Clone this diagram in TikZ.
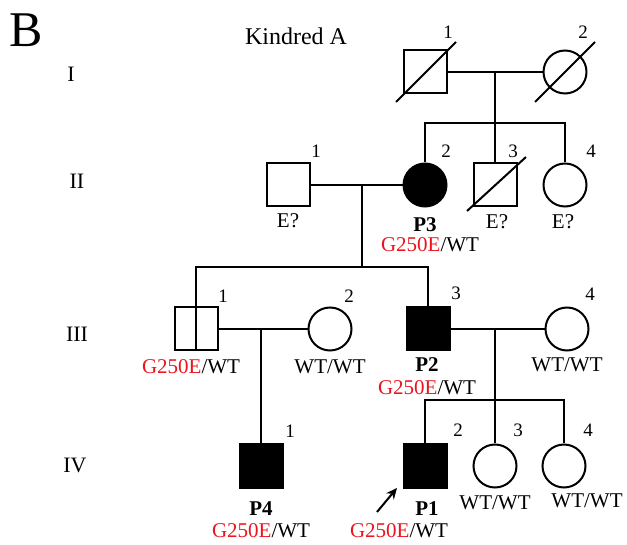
\documentclass[tikz,border=0pt]{standalone}
\usepackage{fontspec}
\setmainfont{Liberation Serif}
\usetikzlibrary{calc,arrows.meta}
\definecolor{mutred}{RGB}{235,20,30}
\tikzset{
  pline/.style={line width=2pt},
  sq/.style={draw,line width=2pt,minimum size=43pt,inner sep=0pt},
  ci/.style={circle,draw,line width=2pt,minimum size=43pt,inner sep=0pt},
  aff/.style={fill=black},
  num/.style={anchor=base,inner sep=0pt,font=\fontsize{19}{19}\selectfont},
  txt/.style={anchor=base,inner sep=0pt,font=\fontsize{21}{21}\selectfont},
  btxt/.style={anchor=base,inner sep=0pt,font=\fontsize{21}{21}\selectfont\bfseries},
  gen/.style={anchor=base,inner sep=0pt,font=\fontsize{22}{22}\selectfont},
}
\newcommand{\mut}{\textcolor{mutred}{G250E}/WT}
\begin{document}
\begin{tikzpicture}[x=1pt,y=-1pt]
\useasboundingbox (0,0) rectangle (627,545);
% titles
\node[anchor=base,inner sep=0pt,font=\fontsize{50}{50}\selectfont] (title) at (26,47) {B};
\node[anchor=base,inner sep=0pt,font=\fontsize{24}{24}\selectfont] (kin) at (296,45) {Kindred A};
% generation labels
\node[gen] (gI) at (71,82) {I};
\node[gen] (gII) at (77,189) {II};
\node[gen] (gIII) at (77,342) {III};
\node[gen] (gIV) at (75,472) {IV};

% Generation I
\node[sq] (i1) at (425,72) {};
\node[ci] (i2) at (565,72) {};
\draw[pline] ($(i1)+(-29,30)$) -- ($(i1)+(31,-30)$);
\draw[pline] ($(i2)+(-30,30)$) -- ($(i2)+(30,-30)$);
\node[num] (n_i1) at (448,39) {1};
\node[num] (n_i2) at (583,39) {2};
\coordinate (m1) at (495,72);
\coordinate (s1) at (495,123);
\draw[pline] (i1) -- (i2);

% Generation II
\node[sq] (ii1) at (288,185) {};
\node[ci,aff] (ii2) at (425,185) {};
\node[sq] (ii3) at (495,185) {};
\node[ci] (ii4) at (565,185) {};
\draw[pline] ($(ii3)+(-28,26)$) -- ($(ii3)+(31,-28)$);
\draw[pline] (m1) -- (s1);
\draw[pline] (ii2.north) |- (s1) -| (ii4.north);
\draw[pline] (s1) -- (ii3.north);
\draw[pline] (ii1) -- (ii2);
\node[num] (n_ii1) at (316,158) {1};
\node[num] (n_ii2) at (446,158) {2};
\node[num] (n_ii3) at (513,158) {3};
\node[num] (n_ii4) at (591,158) {4};
\node[txt] (e1) at (288,228) {E?};
\node[btxt] (p3) at (425,232) {P3};
\node[txt] (g3) at (430,252) {\mut};
\node[txt] (e3) at (497,229) {E?};
\node[txt] (e4) at (563,229) {E?};
\coordinate (m2) at (362,185);
\coordinate (s2) at (362,267);

% Generation III
\node[sq] (iii1) at (196,329) {};
\node[ci] (iii2) at (330,329) {};
\node[sq,aff] (iii3) at (428,329) {};
\node[ci] (iii4) at (567,329) {};
\draw[pline] (m2) -- (s2);
\draw[pline] (iii1.south) |- (s2) -| (iii3.north);
\draw[pline] (iii1) -- (iii2);
\draw[pline] (iii3) -- (iii4);
\node[num] (n_iii1) at (223,303) {1};
\node[num] (n_iii2) at (349,303) {2};
\node[num] (n_iii3) at (456,300) {3};
\node[num] (n_iii4) at (590,301) {4};
\node[txt] (g31) at (191,374) {\mut};
\node[txt] (w32) at (330,374) {WT/WT};
\node[btxt] (p2) at (427,372) {P2};
\node[txt] (g33) at (427,395) {\mut};
\node[txt] (w34) at (567,372) {WT/WT};
\coordinate (m3) at (261,329);
\coordinate (m4) at (495,329);
\coordinate (s4) at (495,400);

% Generation IV
\node[sq,aff] (iv1) at (261,466) {};
\node[sq,aff] (iv2) at (425,466) {};
\node[ci] (iv3) at (495,466) {};
\node[ci] (iv4) at (564,466) {};
\draw[pline] (m3) -- (iv1.north);
\draw[pline] (m4) -- (s4);
\draw[pline] (iv2.north) |- (s4) -| (iv4.north);
\draw[pline] (s4) -- (iv3.north);
\node[num] (n_iv1) at (290,438) {1};
\node[num] (n_iv2) at (458,436) {2};
\node[num] (n_iv3) at (518,436) {3};
\node[num] (n_iv4) at (588,436) {4};
\node[btxt] (p4) at (261,515) {P4};
\node[txt] (g41) at (261,537) {\mut};
\node[btxt] (p1) at (427,515) {P1};
\node[txt] (g42) at (399,537) {\mut};
\node[txt] (w43) at (495,509) {WT/WT};
\node[txt] (w44) at (587,507) {WT/WT};
\coordinate (arrS) at (377,512);
\coordinate (arrE) at (397,488);
\draw[line width=2pt,-{Stealth[length=11pt,width=10pt]}] (arrS) -- (arrE);
\end{tikzpicture}
\end{document}
